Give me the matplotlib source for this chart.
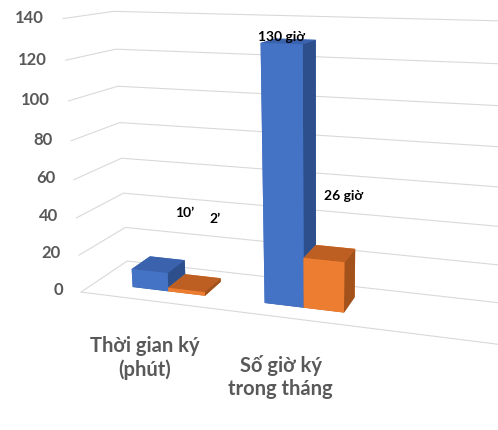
import matplotlib
matplotlib.use("Agg")
import matplotlib.pyplot as plt
import numpy as np

categories = ["Thời gian ký\n(phút)", "Số giờ ký\ntrong tháng"]
series_blue = [10, 130]
series_orange = [2, 26]
z_ticks = [0, 20, 40, 60, 80, 100, 120, 140]

plt.rcParams['font.family'] = ['Lato', 'DejaVu Sans']

# face order in bar3d: bottom, top, front, back, left, right
blue_faces = ["#2f5597", "#3a62ad", "#4472c4", "#4472c4", "#4472c4", "#2d4f8c"]
orange_faces = ["#b85c20", "#bd5f22", "#ed7d31", "#ed7d31", "#ed7d31", "#a3521c"]

fig = plt.figure(figsize=(4.98, 4.30), dpi=100)
ax = fig.add_axes([0.028, 0.115, 1.2, 0.97], projection='3d')
ax.set_proj_type('persp', focal_length=0.4)
ax.view_init(elev=14, azim=-73)
ax.set_box_aspect((5.7, 1.15, 3.3), zoom=1.36)
ax.computed_zorder = False

x = np.arange(len(categories))
bw = 0.28
depth = 0.42
x_min = -0.58
z = 1
for i in range(len(categories)):
    ax.bar3d(x[i] - bw, 0.29, 0, bw, depth, series_blue[i],
             color=blue_faces, shade=False, edgecolor='none', zorder=z)
    ax.bar3d(x[i], 0.29, 0, bw, depth, series_orange[i],
             color=orange_faces, shade=False, edgecolor='none', zorder=z + 1)
    z += 2

ax.set_xlim(x_min, 2.7)
ax.set_ylim(0, 1)
ax.set_zlim(0, 140)

# only the value gridlines on the back and side walls, plus the floor's front edge
ax.set_xticks([])
ax.set_yticks([])
ax.set_zticks(z_ticks)
ax.zaxis.set_major_formatter(plt.NullFormatter())
ax.tick_params(axis='z', labelleft=False, labelright=False)
for a in (ax.xaxis, ax.yaxis, ax.zaxis):
    a.set_pane_color((1, 1, 1, 0))
    a.pane.set_edgecolor((1, 1, 1, 0))
    a.line.set_color((1, 1, 1, 0))
    a.label.set_visible(False)
    a.offsetText.set_visible(False)
    a._axinfo['grid']['color'] = '#d9d9d9'
    a._axinfo['grid']['linewidth'] = 0.8
    a._axinfo['tick']['inward_factor'] = 0
    a._axinfo['tick']['outward_factor'] = 0
ax.xaxis.line.set_color('#d9d9d9')
ax.xaxis.line.set_linewidth(0.8)

for t in z_ticks:
    ax.text(x_min - 0.14, 0, t, str(t), ha='right', va='center',
            fontsize=12, fontweight='bold', color='#595959')

for i, lab in enumerate(categories):
    ax.text(x[i] - 0.1, 0, -20, lab, ha='center', va='top',
            fontsize=14.5, fontweight='bold', color='#595959', linespacing=1.2)

ax.text(x[0] + 0.08, 0.5, 38, f"{series_blue[0]}’", fontsize=10, fontweight='bold', ha='center', zorder=10)
ax.text(x[0] + 0.31, 0.5, 36, f"{series_orange[0]}’", fontsize=10, fontweight='bold', ha='center', zorder=10)
ax.text(x[1] - 0.14, 0.29, series_blue[1] + 1, f"{series_blue[1]} giờ", fontsize=10, fontweight='bold', ha='center', zorder=10)
ax.text(x[1] + 0.27, 0.29, series_orange[1] + 31, f"{series_orange[1]} giờ", fontsize=10, fontweight='bold', ha='center', zorder=10)

fig.savefig("out.png", dpi=100)
